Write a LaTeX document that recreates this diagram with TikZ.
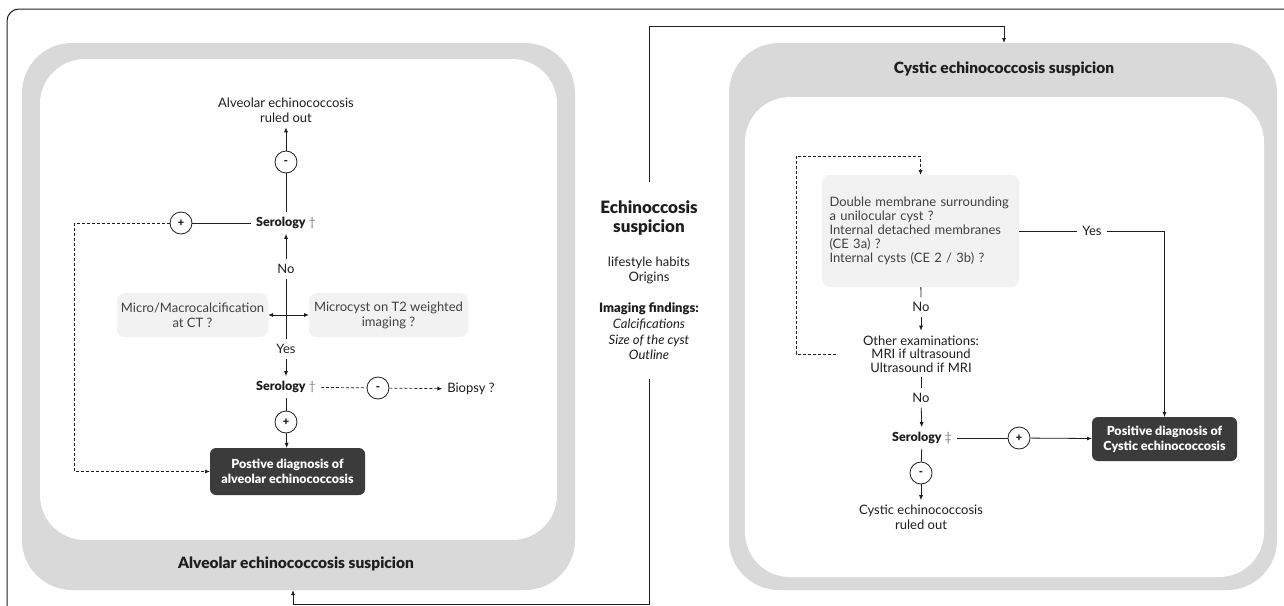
\documentclass[tikz,border=0pt]{standalone}
\usepackage{fontspec}
\setmainfont{Lato}[BoldFont = {Lato Black}]
\usepackage{xcolor}
\usetikzlibrary{arrows.meta,positioning,shapes,calc}
\definecolor{panelgrey}{HTML}{D9D9D9}
\definecolor{boxgrey}{HTML}{F2F2F2}
\definecolor{darkgrey}{HTML}{3B3B3B}
\definecolor{inkgrey}{HTML}{1E1E1E}

\begin{document}
\begin{tikzpicture}[x = 1pt, y = -1pt,
  >={Latex[length=5pt,width=4pt]},
  line width = .8pt, color = inkgrey,
  txt/.style = {align = center, inner sep = 2pt, outer sep = 3pt, text = inkgrey,
    font = \fontsize{13}{15}\selectfont},
  boldtxt/.style = {txt, font = \fontsize{12.5}{15}\selectfont\bfseries},
  title/.style = {txt, font = \fontsize{15.5}{18}\selectfont\bfseries},
  sign/.style = {circle, draw = inkgrey, fill = white, inner sep = 0pt, minimum size = 22pt,
    font = \fontsize{11}{11}\selectfont\bfseries},
  greybox/.style = {txt, fill = boxgrey, rounded corners = 8pt, outer sep = 0pt, text = inkgrey!85},
  darkbox/.style = {boldtxt, fill = darkgrey, rounded corners = 6pt, outer sep = 0pt, text = white},
  dsh/.style = {densely dashed, line width = .7pt}]
\useasboundingbox (0,0) rectangle (1284,605);
\clip (0,0) rectangle (1284,605);
% frame and panels
\draw[line width = 1pt, rounded corners = 12pt] (7,9) rectangle (1320,640);
\fill[panelgrey, rounded corners = 50pt] (22,43) rectangle (575,590);
\fill[white, rounded corners = 45pt] (40,59) rectangle (557,540);
\fill[panelgrey, rounded corners = 50pt] (729,43) rectangle (1277,590);
\fill[white, rounded corners = 45pt] (745,97) rectangle (1264,577);
\coordinate (alvbot) at (293,590);
\coordinate (cystop) at (1004,43);

% alveolar side
\node[txt] (ruled1) at (286,110) {Alveolar echinococcosis\\ruled out};
\node[sign] (minus1) at (286,162) {-};
\node[boldtxt] (sero1) at (286,223) {Serology \textcolor{gray}{\mdseries\dag}};
\node[sign] (plus1) at (181,223) {+};
\node[txt] (no1) at (286,269) {No};
\node[greybox, minimum width = 151pt, minimum height = 44pt] (calc) at (192.5,315) {Micro/Macrocalcification\\at CT ?};
\node[greybox, minimum width = 159pt, minimum height = 44pt] (micro) at (388.5,315) {Microcyst on T2 weighted\\imaging ?};
\node[txt] (yes1) at (286,349) {Yes};
\node[boldtxt] (sero2) at (286,387) {Serology \textcolor{gray}{\mdseries\dag}};
\node[sign] (minus2) at (378,388) {-};
\node[txt] (biopsy) at (471,389) {Biopsy ?};
\node[sign] (plus2) at (286,422) {+};
\node[darkbox, minimum width = 155pt, minimum height = 47pt] (diag1) at (287.5,471.5) {Postive diagnosis of\\alveolar echinococcosis};
\node[title] (alvtitle) at (296,564) {Alveolar echinococcosis suspicion};

\draw[->] (minus1) -- (ruled1);
\draw (sero1) -- (minus1);
\draw (sero1) -- (plus1);
\draw[dsh, ->] (plus1.west) -- ++(-95,0) |- (diag1);
\draw[->] (no1) -- (sero1);
\draw (no1) -- (yes1);
\draw[<->] (calc) -- (micro);
\draw[->] (yes1) -- (sero2);
\draw[dsh] (sero2) -- (minus2);
\draw[dsh, ->] (minus2) -- (biopsy);
\draw (sero2) -- (plus2);
\draw[->] (plus2) -- (diag1);

% middle column
\node[txt, font = \fontsize{17}{19}\selectfont\bfseries] (echino) at (649,218) {Echinoccosis\\suspicion};
\node[txt] (habits) at (649,270) {lifestyle habits\\Origins};
\node[txt, font = \fontsize{13}{15.6}\selectfont] (imaging) at (649,331.5)
  {\textbf{Imaging findings:}\\\textit{Calcifications}\\\textit{Size of the cyst}\\\textit{Outline}};
\draw[->] ([yshift = 14pt]echino.north) |- ([yshift = 17pt]cystop) -- (cystop);
\draw[->] ([yshift = -14pt]imaging.south) |- ([yshift = -14pt]alvbot) -- (alvbot);

% cystic side
\node[title] (cystitle) at (1004,69) {Cystic echinococcosis suspicion};
\node[greybox, align = left, text width = 182pt, inner xsep = 7.5pt, minimum height = 112pt,
  font = \fontsize{13}{14}\selectfont] (qbox) at (920.5,231)
  {Double membrane surrounding\\a unilocular cyst ?\\Internal detached membranes\\(CE 3a) ?\\Internal cysts (CE 2 / 3b) ?};
\node[txt] (yes2) at (1092,231) {Yes};
\node[txt] (no2) at (921,307) {No};
\node[txt, font = \fontsize{13}{13.5}\selectfont] (other) at (921,354) {Other examinations:\\MRI if ultrasound\\Ultrasound if MRI};
\node[txt] (no3) at (921,398) {No};
\node[boldtxt] (sero3) at (922,438) {Serology \textcolor{gray}{\mdseries\ddag}};
\node[sign] (plus3) at (1019,438) {+};
\node[darkbox, minimum width = 145pt, minimum height = 44pt] (diag2) at (1164.5,439) {Positive diagnosis of\\Cystic echinococcosis};
\node[sign] (minus3) at (921,473) {-};
\node[txt] (ruled2) at (921,517.5) {Cystic echinococcosis\\ruled out};

\draw (qbox) -- (yes2);
\draw[->] (yes2) -| (diag2);
\draw (qbox) -- (no2);
\draw[->] (no2) -- (other);
\draw[dsh, ->] ([xshift = -22pt]other.west) -- ++(-40,0) |- ([yshift = 19pt]qbox.north) -- (qbox.north);
\draw (other) -- (no3);
\draw[->] (no3) -- (sero3);
\draw (sero3) -- (plus3);
\draw[->] (plus3) -- (diag2);
\draw (sero3) -- (minus3);
\draw[->] (minus3) -- (ruled2);
\end{tikzpicture}
\end{document}
